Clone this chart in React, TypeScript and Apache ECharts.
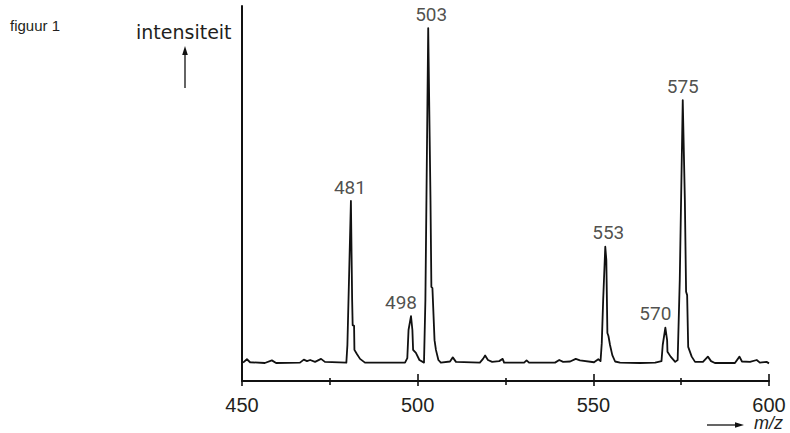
import React, { useEffect, useRef } from "react";
import * as echarts from "echarts";

// spectrum trace (m/z, relative intensity)
const mz = [
  450.3, 451.4, 452.3, 456.5, 458.5, 459.7, 466.5, 467.6, 468.5, 469.4, 470.8, 472.5, 473.6,
  479.7, 480.0, 481.0, 481.35, 481.5, 481.9, 482.0, 482.7, 483.6, 485.0,
  496.4, 497.05, 497.4, 498.1, 498.5, 498.7, 499.5, 500.5, 501.8,
  502.2, 503.0, 503.65, 503.9, 504.2, 504.8, 505.2, 505.9, 506.6,
  509.2, 510.0, 510.9, 517.7, 518.6, 519.2, 520.0, 521.2, 523.2, 524.2, 524.6,
  530.3, 531.0, 531.7, 539.1, 540.3, 541.4, 543.4, 545.0, 546.2, 550.2, 551.4, 552.05,
  552.4, 552.8, 553.4, 553.7, 554.0, 554.3, 554.75, 555.4, 556.2, 557.6, 563.3, 567.6,
  569.4, 569.75, 570.5, 571.0, 571.1, 572.0, 573.3, 574.0,
  574.6, 575.45, 576.05, 576.4, 576.7, 577.0, 578.0, 578.95,
  581.2, 582.6, 583.5, 584.6, 590.3, 591.6, 592.3, 594.6, 596.5, 597.4, 599.3, 600.0,
];
const intensity = [
  4.9, 5.8, 5.0, 4.8, 5.5, 4.8, 4.9, 5.7, 5.3, 5.6, 5.1, 5.9, 5.1,
  4.9, 9.6, 48.0, 21.6, 14.9, 14.7, 8.3, 7.2, 5.9, 4.9,
  4.9, 6.1, 13.6, 17.3, 13.6, 8.3, 7.5, 5.6, 4.9,
  21.6, 94.1, 48.3, 25.1, 24.8, 10.9, 8.3, 5.6, 4.9,
  5.2, 6.3, 5.1, 4.9, 5.9, 6.8, 5.6, 5.1, 5.3, 5.9, 4.9,
  4.9, 5.5, 4.9, 4.9, 5.6, 5.1, 5.2, 5.9, 5.5, 5.0, 5.8, 5.3,
  10.1, 21.6, 35.8, 32.3, 12.8, 12.0, 9.6, 6.9, 5.2, 4.9, 4.8, 4.9,
  5.3, 9.6, 14.2, 10.9, 7.8, 6.5, 5.1, 5.6,
  26.9, 74.9, 48.3, 23.8, 22.9, 9.1, 6.5, 5.1,
  5.1, 6.5, 5.3, 4.8, 4.8, 6.5, 5.2, 5.1, 5.6, 4.9, 5.1, 4.7,
];

// labelled peaks
const peakMz = [481.0, 498.1, 503.0, 553.4, 570.5, 575.45];
const peakIntensity = [48.0, 17.3, 94.1, 35.8, 14.2, 74.9];
const peakLabels = ["481", "498", "503", "553", "570", "575"];
const peakLabelShift = [-1, -10, 3, 3, -10, 0];

const X_MIN = 450;
const X_MAX = 600;
const X_STEP = 50;
const Y_MIN = 0;
const Y_MAX = 100;

const INK = "#111111";
const TEXT = "#231f20";

export default function App() {
  const ref = useRef<HTMLDivElement>(null);

  useEffect(() => {
    document.body.style.margin = "0";
    if (!ref.current) return;
    const chart = echarts.init(ref.current, undefined, { renderer: "svg" });

    const grid = { left: 242, right: 21, top: 6, bottom: 52 };

    const option: any = {
      animation: false,
      backgroundColor: "#ffffff",
      grid: [
        { ...grid },
        { ...grid },
      ],
      xAxis: [
        {
          type: "value",
          gridIndex: 0,
          min: X_MIN,
          max: X_MAX,
          interval: X_STEP,
          axisLine: { show: true, onZero: false, lineStyle: { color: INK, width: 2 } },
          axisTick: { show: true, inside: true, length: 7, lineStyle: { color: INK, width: 1.6 } },
          minorTick: { show: true, splitNumber: 2, length: 3, lineStyle: { color: INK, width: 1.6 } },
          splitLine: { show: false },
          axisLabel: {
            show: true,
            margin: 16,
            color: TEXT,
            fontSize: 20,
            lineHeight: 16,
            fontFamily: "'Liberation Sans', Arial, sans-serif",
          },
        },
        {
          type: "value",
          gridIndex: 1,
          min: X_MIN,
          max: X_MAX,
          interval: X_STEP,
          position: "bottom",
          axisLine: { show: false },
          axisTick: { show: true, inside: false, length: 5, lineStyle: { color: INK, width: 1.6 } },
          minorTick: { show: true, splitNumber: 2, length: 4, lineStyle: { color: INK, width: 1.6 } },
          splitLine: { show: false },
          axisLabel: { show: false },
        },
      ],
      yAxis: [
        {
          type: "value",
          gridIndex: 0,
          min: Y_MIN,
          max: Y_MAX,
          axisLine: { show: true, onZero: false, lineStyle: { color: INK, width: 2 } },
          axisTick: { show: false },
          axisLabel: { show: false },
          splitLine: { show: false },
        },
        {
          type: "value",
          gridIndex: 1,
          min: Y_MIN,
          max: Y_MAX,
          show: false,
        },
      ],
      series: [
        {
          type: "line",
          xAxisIndex: 0,
          yAxisIndex: 0,
          data: mz.map((m, i) => [m, intensity[i]]),
          symbol: "none",
          lineStyle: { color: INK, width: 1.8, join: "round" },
          smooth: false,
          silent: true,
        },
        {
          type: "scatter",
          xAxisIndex: 0,
          yAxisIndex: 0,
          symbolSize: 1,
          itemStyle: { color: "rgba(0,0,0,0)" },
          silent: true,
          data: peakMz.map((m, i) => ({
            value: [m, peakIntensity[i]],
            label: {
              show: true,
              position: "top",
              distance: 4,
              offset: [peakLabelShift[i], 0],
              formatter: peakLabels[i],
              color: TEXT,
              fontSize: 19,
              fontFamily: "Roboto, sans-serif",
            },
          })),
        },
      ],
      graphic: [
        {
          type: "text",
          left: 10,
          top: 18,
          style: {
            text: "figuur 1",
            fill: TEXT,
            fontSize: 15,
            fontFamily: "'Liberation Sans', Arial, sans-serif",
          },
        },
        {
          type: "text",
          left: 136,
          top: 22,
          style: {
            text: "intensiteit",
            fill: TEXT,
            fontSize: 19,
            fontFamily: "'DejaVu Sans', sans-serif",
          },
        },
        {
          type: "line",
          shape: { x1: 185, y1: 53, x2: 185, y2: 88 },
          style: { stroke: INK, lineWidth: 1.3 },
        },
        {
          type: "polygon",
          shape: { points: [[185, 46], [182.2, 55], [187.8, 55]] },
          style: { fill: INK },
        },
        {
          type: "line",
          shape: { x1: 707, y1: 425, x2: 737, y2: 425 },
          style: { stroke: INK, lineWidth: 1.3 },
        },
        {
          type: "polygon",
          shape: { points: [[744, 425], [735, 422.2], [735, 427.8]] },
          style: { fill: INK },
        },
        {
          type: "text",
          left: 754,
          top: 414,
          style: {
            text: "m/z",
            fill: TEXT,
            fontSize: 18,
            lineHeight: 17,
            fontStyle: "italic",
            fontFamily: "'Liberation Sans', Arial, sans-serif",
          },
        },
      ],
    };

    chart.setOption(option);
    return () => {
      chart.dispose();
    };
  }, []);

  return <div ref={ref} style={{ width: 790, height: 433 }} />;
}
